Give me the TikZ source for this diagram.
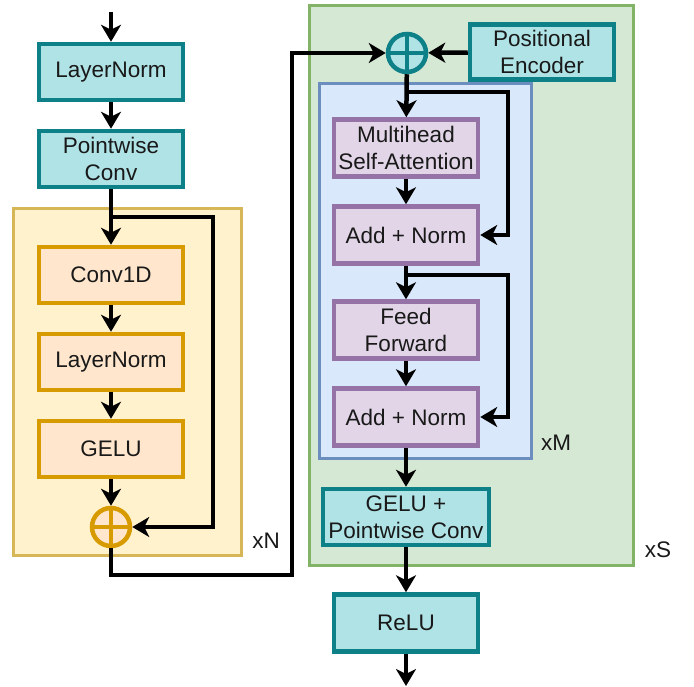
\documentclass[tikz,border=0pt]{standalone}
\usepackage{fontspec}
\setmainfont{Liberation Sans}
\usetikzlibrary{arrows.meta,calc}
\definecolor{tealD}{HTML}{0E8088}
\definecolor{tealF}{HTML}{B0E3E6}
\definecolor{orD}{HTML}{D79B00}
\definecolor{orF}{HTML}{FFE6CC}
\definecolor{yeD}{HTML}{D6B656}
\definecolor{yeF}{HTML}{FFF2CC}
\definecolor{grD}{HTML}{82B366}
\definecolor{grF}{HTML}{D5E8D4}
\definecolor{blD}{HTML}{6C8EBF}
\definecolor{blF}{HTML}{DAE8FC}
\definecolor{puD}{HTML}{9673A6}
\definecolor{puF}{HTML}{E1D5E7}
\tikzset{
  txt/.style={font=\fontsize{22.5}{27}\selectfont, text=black!90},
  boxbase/.style={txt, rectangle, line width=4.5pt, align=center, minimum width=144pt, minimum height=56pt, inner sep=1pt},
  tealbox/.style={boxbase, draw=tealD, fill=tealF},
  orbox/.style={boxbase, draw=orD, fill=orF},
  pubox/.style={boxbase, draw=puD, fill=puF},
  plusc/.style={circle, line width=4.5pt, minimum size=38pt, inner sep=0pt},
  cont/.style={line width=3pt},
  conn/.style={line width=4.5pt, black},
  arr/.style={conn, -{Stealth[length=17pt,width=20pt,inset=5pt]}},
  lbl/.style={txt, anchor=center}
}
\begin{document}
\begin{tikzpicture}[x=1pt,y=-1pt]
\useasboundingbox (0,0) rectangle (694,687);
% containers
\draw[cont, draw=yeD, fill=yeF] (13.5,208.5) rectangle (241.5,555.5);
\draw[cont, draw=grD, fill=grF] (309.5,5.5) rectangle (633.5,565.5);
\draw[cont, draw=blD, fill=blF] (319.5,83.5) rectangle (531.5,458.5);
% left column
\node[tealbox] (ln1) at (111,72) {LayerNorm};
\node[tealbox] (pw) at (111,159) {Pointwise\\Conv};
\node[orbox] (conv) at (111,275) {Conv1D};
\node[orbox] (ln2) at (111,362) {LayerNorm};
\node[orbox] (gelu) at (111,449) {GELU};
\node[plusc, draw=orD, fill=orF] (cp1) at (111,527) {};
\draw[line width=4.5pt, orD] (cp1.north) -- (cp1.south) (cp1.west) -- (cp1.east);
\node[lbl] (xn) at (266,541) {xN};
% right column
\node[plusc, draw=tealD, fill=tealF] (cp2) at (407,53) {};
\draw[line width=4.5pt, tealD] (cp2.north) -- (cp2.south) (cp2.west) -- (cp2.east);
\node[tealbox, minimum width=144pt, minimum height=55pt] (pe) at (542,52) {Positional\\Encoder};
\node[pubox, minimum height=57pt] (mh) at (406,148) {Multihead\\Self-Attention};
\node[pubox, minimum height=57pt] (an1) at (406,235) {Add + Norm};
\node[pubox, minimum height=57pt] (ff) at (406,330) {Feed\\Forward};
\node[pubox, minimum height=57pt] (an2) at (406,417) {Add + Norm};
\node[lbl] (xm) at (556,443) {xM};
\node[tealbox, minimum width=166pt] (gp) at (406,517) {GELU +\\Pointwise Conv};
\node[lbl] (xs) at (658,550) {xS};
\node[tealbox, minimum height=57pt] (relu) at (406,623) {ReLU};
% coordinates
\coordinate (in) at (111,12);
\coordinate (s1) at (111,217);
\coordinate (k1) at (213,217);
\coordinate (k2) at (292,575);
\coordinate (s2) at (407,92);
\coordinate (k3) at (508,92);
\coordinate (s3) at (406,275);
\coordinate (k4) at (508,275);
\coordinate (out) at (406,686);
% connectors
\draw[arr] (in) -- (ln1);
\draw[arr] (ln1) -- (pw);
\draw[arr] (pw) -- (conv);
\draw[arr] (s1) -- (k1) |- (cp1.east);
\draw[arr] (conv) -- (ln2);
\draw[arr] (ln2) -- (gelu);
\draw[arr] (gelu) -- (cp1);
\draw[arr] (cp1.south) |- (k2) |- (cp2.west);
\draw[arr] (pe) -- (cp2);
\draw[arr] (cp2) -- (mh);
\draw[arr] (s2) -- (k3) |- (an1.east);
\draw[arr] (mh) -- (an1);
\draw[arr] (an1) -- (ff);
\draw[arr] (s3) -- (k4) |- (an2.east);
\draw[arr] (ff) -- (an2);
\draw[arr] (an2) -- (gp);
\draw[arr] (gp) -- (relu);
\draw[arr] (relu) -- (out);
\end{tikzpicture}
\end{document}
